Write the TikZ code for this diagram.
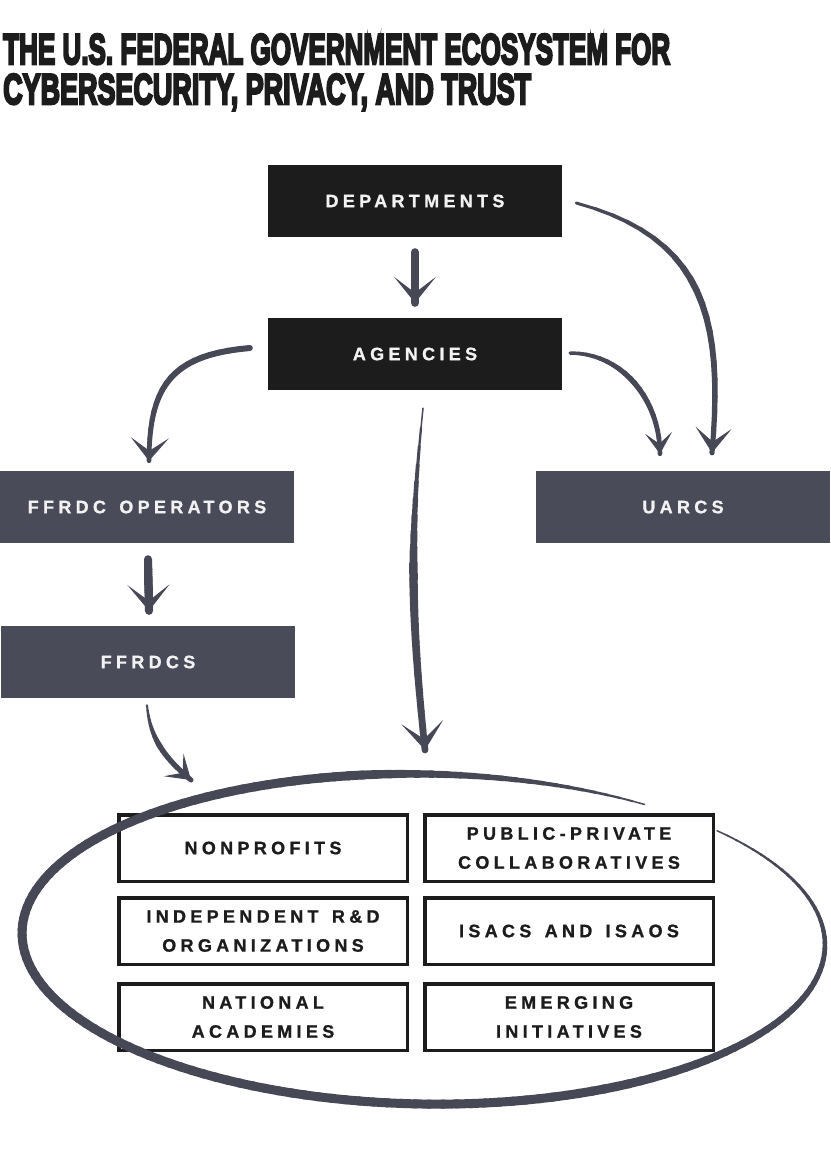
\documentclass[tikz,border=0pt]{standalone}
\usepackage{fontspec}
\usepackage{graphicx}
\usetikzlibrary{arrows.meta}
\newfontfamily\boxfont{Liberation Sans Bold}[LetterSpace=24,FakeBold=1]
\newfontfamily\titlefont{Liberation Sans Bold}[FakeBold=6]
\definecolor{dark}{HTML}{1C1C1C}
\definecolor{slate}{HTML}{4A4B59}
\definecolor{brushc}{HTML}{474856}
\definecolor{txtw}{HTML}{F2F2F2}
\newcommand\brush[8]{%
  \foreach \i [evaluate=\i as \f using \i/20] in {0,...,20}{\path #1 coordinate[pos=\f] (p\i) #2;}%
  \foreach \i [evaluate=\i as \j using int(\i+1), evaluate=\i as \w using {\i/20<0.45 ? #3+(#4-#3)*\i/9 : #4+(#5-#4)*(\i-9)/11}] in {0,...,19}{\draw[brushline, line width=\w pt] (p\i) -- (p\j);}%
  \draw[brushline, line width=1pt, -{Stealth[length=#6pt, width=#7pt, inset=#8pt]}] (p18) -- (p20);
}
\newcommand\wsp{\hspace{4pt} }
\begin{document}
\begin{tikzpicture}[x=1pt,y=-1pt,
  darkbox/.style={fill=dark, minimum width=294pt, minimum height=72pt, text=txtw, inner sep=0pt,
    font=\boxfont\fontsize{18pt}{22pt}\selectfont},
  graybox/.style={darkbox, fill=slate},
  gridbox/.style={draw=dark, line width=3.5pt, minimum width=288.5pt, minimum height=66.5pt, align=center,
    text=dark, inner sep=0pt, font=\boxfont\fontsize{18pt}{29pt}\selectfont},
  brushline/.style={draw=brushc, line cap=round},
  titletext/.style={anchor=base west, inner sep=0pt, text=dark},
]
\fill[white] (0,0) rectangle (830,1172);
\useasboundingbox (0,0) rectangle (830,1172);

% title
\node[titletext] (t1) at (3,64) {\resizebox{667pt}{30pt}{\titlefont THE U.S. FEDERAL GOVERNMENT ECOSYSTEM FOR}};
\node[titletext] (t2) at (3,104) {\resizebox{528pt}{30pt}{\titlefont CYBERSECURITY, PRIVACY, AND TRUST}};

% upper boxes
\node[darkbox] (dept) at (415,201) {DEPARTMENTS};
\node[darkbox] (agen) at (415,354) {AGENCIES};
\node[graybox] (ffop) at (147,507) {FFRDC\wsp OPERATORS};
\node[graybox] (uarcs) at (683,507) {UARCS};
\node[graybox] (ffrdcs) at (148,662) {FFRDCS};

% grid
\node[gridbox] (np) at (263,848) {NONPROFITS};
\node[gridbox] (ppc) at (569,848) {PUBLIC-PRIVATE\\COLLABORATIVES};
\node[gridbox] (ird) at (263,931) {INDEPENDENT\wsp R\&D\\ORGANIZATIONS};
\node[gridbox] (isac) at (569,931) {ISACS\wsp AND\wsp ISAOS};
\node[gridbox] (na) at (263,1017) {NATIONAL\\ACADEMIES};
\node[gridbox] (ei) at (569,1017) {EMERGING\\INITIATIVES};

% ring
\coordinate (ring) at (423.5,939);
\coordinate (ringN) at (425,772);
\coordinate (ringNW) at (191,800);
\foreach \t in {-57,-59,...,-401}{%
  \pgfmathsetmacro\u{\t-2.4}%
  \pgfmathsetmacro\s{(-57-\t)/344}%
  \pgfmathsetmacro\w{\s<0.12 ? 1.5+7.5*\s/0.12 : (\s<0.7 ? 9 : 1.5+7.5*(1-\s)/0.3)}%
  \draw[brushline, line width=\w pt] plot[domain=\t:\u, samples=3]
    ({423.5+401.5*cos(\x)*0.99985-165*sin(\x)*0.017452},{939+401.5*cos(\x)*0.017452+165*sin(\x)*0.99985});
}

% connectors
\brush{([yshift=-15pt]dept.south) --}{([yshift=15pt]agen.north)}{8}{8.5}{8}{26}{42}{16}
\brush{([xshift=14pt,yshift=-2pt]dept.east) to[out=-15,in=85,looseness=1.2]}{([xshift=29pt,yshift=18pt]uarcs.north)}{3}{6.5}{5}{25}{36}{14}
\brush{([xshift=8pt,yshift=1pt]agen.east) to[out=0,in=90]}{([xshift=-23pt,yshift=17pt]uarcs.north)}{3.5}{5.5}{4.5}{21}{27}{11}
\brush{([xshift=-18pt,yshift=6pt]agen.west) to[out=185,in=90,looseness=1.3]}{([xshift=2pt,yshift=10pt]ffop.north)}{6}{6}{4.5}{23}{38}{13}
\brush{([xshift=8pt,yshift=-18pt]agen.south) to[out=-96,in=96]}{([yshift=22pt]ringN)}{1.5}{8.5}{6.5}{28}{42}{17}
\brush{([xshift=1pt,yshift=-16pt]ffop.south) --}{([xshift=1pt,yshift=15pt]ffrdcs.north)}{8}{8.5}{8}{26}{42}{16}
\brush{([xshift=-1pt,yshift=-7pt]ffrdcs.south) to[out=-85,in=140]}{([yshift=20pt]ringNW)}{2}{5.5}{5}{23}{30}{12}
\end{tikzpicture}
\end{document}
